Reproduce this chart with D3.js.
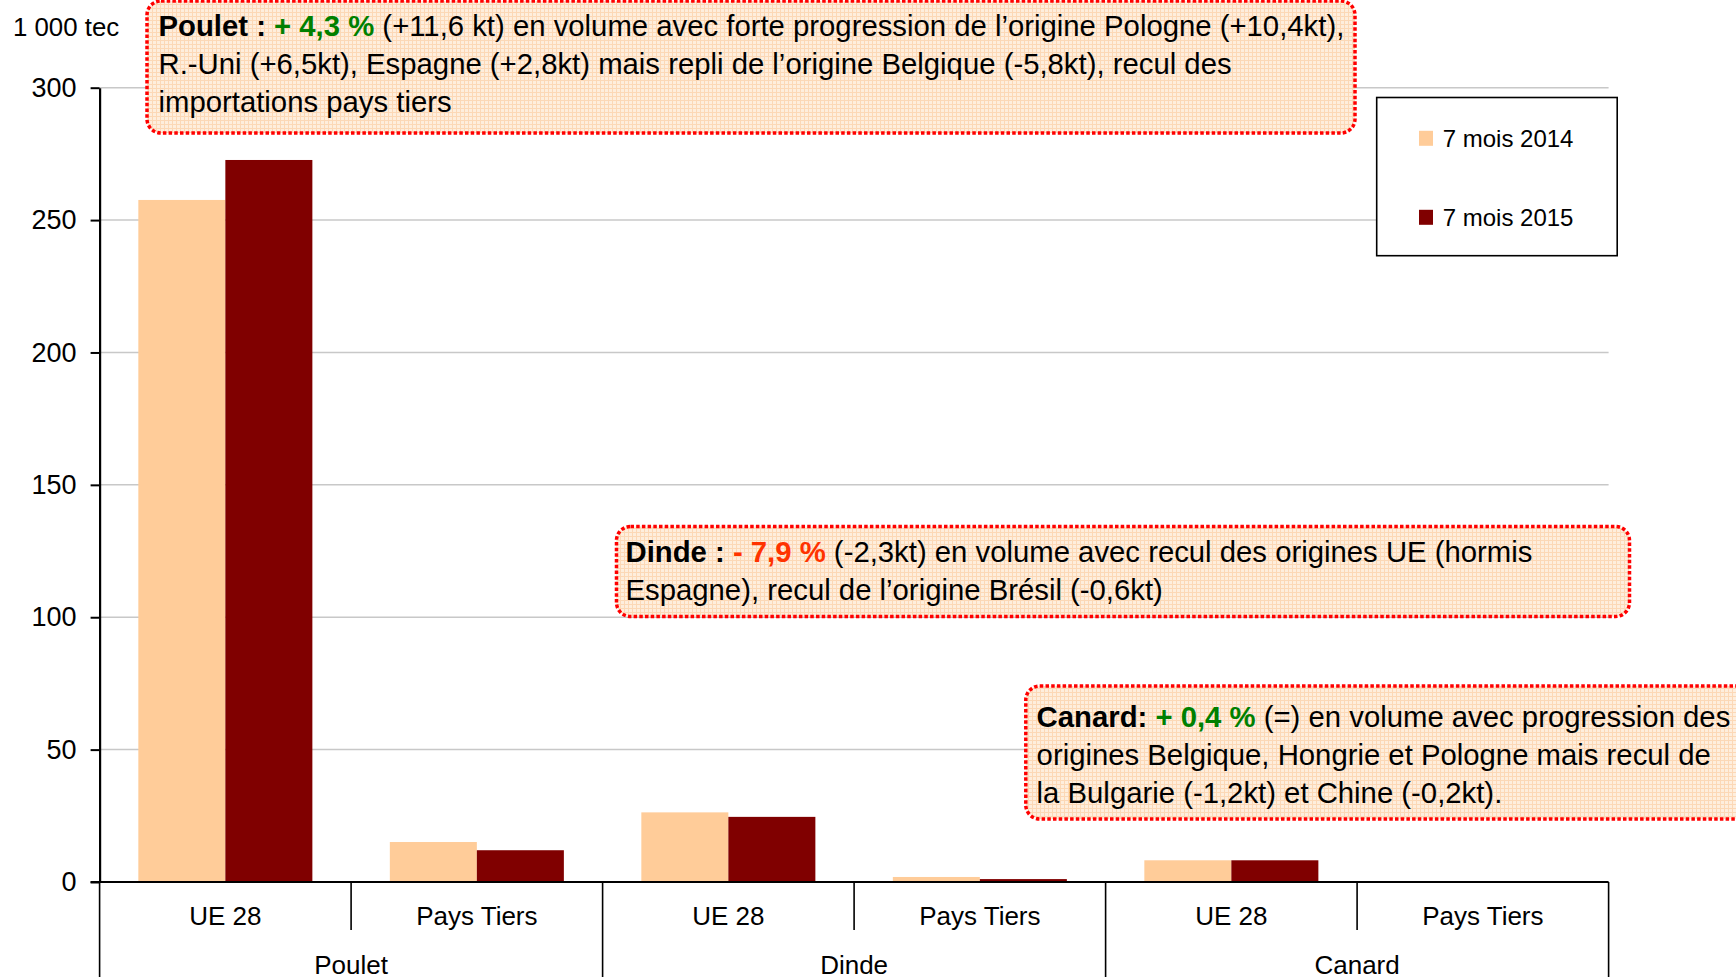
<!DOCTYPE html>
<html>
	<head>
		<meta charset="utf-8">
		<script src="https://cdnjs.cloudflare.com/ajax/libs/d3/7.8.5/d3.min.js" charset="utf-8"></script>
		<style>
			html, body { margin: 0; padding: 0; background: #fff; }
			svg { display: block; font-family: "Liberation Sans", Arial, sans-serif; }
			.grid line { stroke: #c8c8c8; stroke-width: 1.5; }
			.note { font-size: 29.3px; fill: #000; }
		</style>
	</head>
	<body>
		<div id="chart"></div>
		<script>
			//////////////////////////////// Data ////////////////////////////////
			var groups = ["Poulet", "Dinde", "Canard"];
			var origins = ["UE 28", "Pays Tiers"];
			var series = ["7 mois 2014", "7 mois 2015"];
			var values2014 = [257.6, 15.1, 26.3, 1.9, 8.2, 0.1];
			var values2015 = [272.7, 12.0, 24.6, 1.1, 8.2, 0.1];
			var yTicks = [0, 50, 100, 150, 200, 250, 300];
			var yUnit = "1 000 tec";
			var colors = ["#ffcc99", "#800000"];

			// annotation texts, one array of segments per line
			var notePoulet = [
				[{t: "Poulet : ", c: "#000", b: true}, {t: "+ 4,3 %", c: "#008000", b: true}, {t: " (+11,6 kt) en volume avec forte progression de l\u2019origine Pologne (+10,4kt),"}],
				[{t: "R.-Uni (+6,5kt), Espagne (+2,8kt) mais repli de l\u2019origine Belgique (-5,8kt), recul des"}],
				[{t: "importations pays tiers"}]
			];
			var noteDinde = [
				[{t: "Dinde : ", c: "#000", b: true}, {t: "- 7,9 %", c: "#ff3300", b: true}, {t: " (-2,3kt) en volume avec recul des origines UE (hormis"}],
				[{t: "Espagne), recul de l\u2019origine Br\u00e9sil (-0,6kt)"}]
			];
			var noteCanard = [
				[{t: "Canard: ", c: "#000", b: true}, {t: "+ 0,4 %", c: "#008000", b: true}, {t: " (=) en volume avec progression des"}],
				[{t: "origines Belgique, Hongrie et Pologne mais recul de"}],
				[{t: "la Bulgarie (-1,2kt) et Chine (-0,2kt)."}]
			];

			var cats = [];
			groups.forEach(function(g) {
				origins.forEach(function(o) { cats.push({group: g, origin: o}); });
			});
			cats.forEach(function(d, i) { d.vals = [values2014[i], values2015[i]]; d.i = i; });

			//////////////////////////// Set up svg ////////////////////////////
			var width = 1736, height = 977;
			var plot = {left: 99.6, right: 1608.6, top: 87.7, bottom: 882};

			var svg = d3.select("#chart").append("svg")
				.attr("width", width)
				.attr("height", height);

			var defs = svg.append("defs");
			var pat = defs.append("pattern")
				.attr("id", "peach")
				.attr("width", 4).attr("height", 4)
				.attr("patternUnits", "userSpaceOnUse");
			pat.append("rect").attr("width", 4).attr("height", 4).attr("fill", "#feeedd");
			pat.append("rect").attr("width", 4).attr("height", 1).attr("fill", "#fcd8b6");
			pat.append("rect").attr("width", 1).attr("height", 4).attr("fill", "#fcd8b6");

			var y = d3.scaleLinear().domain([0, 300]).range([plot.bottom, plot.top]);
			var x0 = d3.scaleBand().domain(d3.range(cats.length)).range([plot.left, plot.right]);
			var bw = x0.bandwidth();
			var x1 = d3.scaleBand().domain(d3.range(series.length)).range([bw * 0.154, bw * 0.846]);

			//gridlines
			svg.append("g").attr("class", "grid")
				.selectAll("line")
				.data(yTicks.filter(function(d) { return d > 0; }))
				.enter().append("line")
				.attr("x1", plot.left).attr("x2", plot.right)
				.attr("y1", function(d) { return y(d); })
				.attr("y2", function(d) { return y(d); });

			//y axis
			var yAxis = svg.append("g")
				.attr("transform", "translate(" + plot.left + ",0)")
				.call(d3.axisLeft(y).tickValues(yTicks).tickSize(9).tickPadding(14).tickSizeOuter(0));
			yAxis.select(".domain").attr("stroke", "#000").attr("stroke-width", 2.2);
			yAxis.selectAll(".tick line").attr("stroke", "#000").attr("stroke-width", 2);
			yAxis.selectAll(".tick text")
				.attr("fill", "#000")
				.style("font-family", "'Liberation Sans', Arial, sans-serif")
				.style("font-size", "27px");

			svg.append("text")
				.attr("x", 13).attr("y", 35.5)
				.style("font-size", "25.8px")
				.text(yUnit);

			//bars
			var catG = svg.append("g").selectAll("g")
				.data(cats)
				.enter().append("g")
				.attr("transform", function(d) { return "translate(" + x0(d.i) + ",0)"; });

			catG.selectAll("rect")
				.data(function(d) { return d.vals; })
				.enter().append("rect")
				.attr("x", function(d, i) { return x1(i); })
				.attr("width", x1.bandwidth())
				.attr("y", function(d) { return y(d); })
				.attr("height", function(d) { return plot.bottom - y(d); })
				.attr("fill", function(d, i) { return colors[i]; });

			//x axis (two levels)
			svg.append("line")
				.attr("x1", plot.left - 9).attr("x2", plot.right)
				.attr("y1", plot.bottom).attr("y2", plot.bottom)
				.attr("stroke", "#000").attr("stroke-width", 2.2);

			d3.range(cats.length + 1).forEach(function(i) {
				var xx = i < cats.length ? x0(i) : plot.right;
				svg.append("line")
					.attr("x1", xx).attr("x2", xx)
					.attr("y1", plot.bottom).attr("y2", i % 2 === 0 ? height : 930)
					.attr("stroke", "#000").attr("stroke-width", 1.6);
			});

			svg.append("g").selectAll("text")
				.data(cats)
				.enter().append("text")
				.attr("x", function(d) { return x0(d.i) + bw / 2; })
				.attr("y", 924.8)
				.attr("text-anchor", "middle")
				.style("font-size", "26px")
				.text(function(d) { return d.origin; });

			svg.append("g").selectAll("text")
				.data(groups)
				.enter().append("text")
				.attr("x", function(d, i) { return x0(i * 2) + bw; })
				.attr("y", 973.5)
				.attr("text-anchor", "middle")
				.style("font-size", "26px")
				.text(function(d) { return d; });

			//legend
			var legend = svg.append("g");
			legend.append("rect")
				.attr("x", 1376.7).attr("y", 97.5)
				.attr("width", 240.5).attr("height", 158.2)
				.attr("fill", "#fff").attr("stroke", "#000").attr("stroke-width", 1.6);
			var legendY = [138.3, 217.3];
			series.forEach(function(s, i) {
				legend.append("rect")
					.attr("x", 1419).attr("y", legendY[i] - 7.5)
					.attr("width", 14).attr("height", 15)
					.attr("fill", colors[i]);
				legend.append("text")
					.attr("x", 1442.7).attr("y", legendY[i] + 8.6)
					.style("font-size", "24px")
					.text(s);
			});

			//annotation boxes
			function note(lines, box, tx, ty, lh) {
				var g = svg.append("g");
				g.append("rect")
					.attr("x", box[0]).attr("y", box[1])
					.attr("width", box[2]).attr("height", box[3])
					.attr("rx", 14).attr("ry", 14)
					.attr("fill", "url(#peach)")
					.attr("stroke", "#ff0000")
					.attr("stroke-width", 3.5)
					.attr("stroke-dasharray", "3.5,2.2");
				lines.forEach(function(line, li) {
					var t = g.append("text")
						.attr("class", "note")
						.attr("x", tx).attr("y", ty + li * lh)
						.attr("xml:space", "preserve");
					line.forEach(function(seg) {
						t.append("tspan")
							.attr("fill", seg.c || "#000")
							.style("font-weight", seg.b ? "bold" : "normal")
							.text(seg.t);
					});
				});
			}

			note(notePoulet, [147, 1, 1208, 132], 158.5, 36, 38);
			note(noteDinde, [616.5, 526.5, 1013, 90], 625.5, 562, 37.5);
			note(noteCanard, [1025.8, 686, 760, 133], 1036.6, 727, 38);
		</script>
	</body>
</html>
